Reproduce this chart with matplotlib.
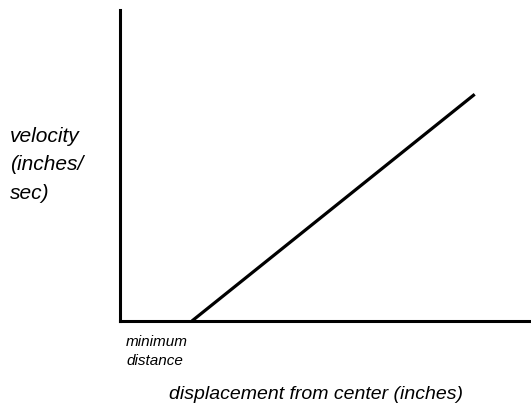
import matplotlib.pyplot as plt

# displacement (x) and velocity (y), in arbitrary units
disp = [1.75, 8.63]
vel = [0.0, 7.29]

ylabel_text = 'velocity\n(inches/\nsec)'
xlabel_text = 'displacement from center (inches)'
min_text = 'minimum\ndistance'

plt.rcParams['font.family'] = 'Liberation Sans'

fig = plt.figure(figsize=(5.31, 4.16), dpi=100)
ax = fig.add_axes([120 / 531, 95 / 416, 411 / 531, 311 / 416])

ax.plot(disp, vel, color='black', lw=2.3, solid_capstyle='butt')
ax.set_xlim(0, 10)
ax.set_ylim(0, 10)

for s in ['top', 'right']:
    ax.spines[s].set_visible(False)
for s in ['left', 'bottom']:
    ax.spines[s].set_linewidth(2.2)
ax.set_xticks([])
ax.set_yticks([])

# va='baseline' sits on the last line's baseline
fig.text(10 / 531, 1 - 199 / 416, ylabel_text, fontsize=15, style='italic',
         va='baseline', ha='left', linespacing=1.65)
fig.text(126 / 531, 1 - 365 / 416, min_text, fontsize=11, style='italic',
         va='baseline', ha='left', linespacing=1.5)
fig.text(316 / 531, 1 - 399 / 416, xlabel_text, fontsize=14, style='italic',
         va='baseline', ha='center')

plt.savefig('out.png', dpi=100)
